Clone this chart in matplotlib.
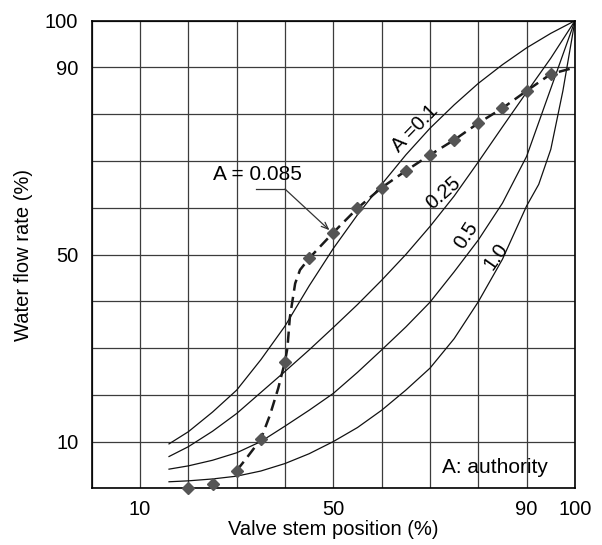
import matplotlib.pyplot as plt

plt.rcParams['font.family'] = ['Liberation Sans', 'DejaVu Sans']

# installed valve curves for several authorities
stem_01 = [16, 20, 25, 30, 35, 40, 45, 50, 55, 60, 65, 70, 75, 80, 85, 90, 95, 100]
flow_01 = [9.5, 12.1, 16.3, 21.0, 27.5, 34.7, 43.3, 51.3, 58.5, 65.0, 71.3, 77.0, 82.0, 86.6, 90.6, 94.2, 97.3, 100]

stem_025 = [16, 20, 25, 30, 35, 40, 45, 50, 55, 60, 65, 70, 75, 80, 85, 90, 95, 100]
flow_025 = [6.8, 8.9, 12.2, 16.0, 20.5, 25.0, 29.6, 34.4, 39.3, 44.5, 50.0, 56.0, 62.5, 69.8, 77.3, 84.7, 92.0, 100]

stem_05 = [16, 20, 25, 30, 35, 40, 45, 50, 55, 60, 65, 70, 75, 80, 85, 90, 95, 100]
flow_05 = [4.1, 4.8, 6.0, 7.6, 10.0, 13.3, 16.7, 20.3, 24.8, 29.6, 34.5, 39.8, 46.3, 53.1, 61.0, 71.0, 85.5, 100]

stem_10 = [16, 20, 25, 30, 35, 40, 45, 50, 55, 60, 65, 70, 75, 80, 85, 90, 92.5, 95, 97.5, 100]
flow_10 = [1.4, 1.6, 2.0, 2.6, 3.7, 5.3, 7.4, 10.0, 13.0, 16.7, 21.0, 25.7, 32.0, 39.9, 49.0, 60.4, 65.0, 72.5, 85.0, 100]

# measured curve (A = 0.085): dashed path and diamond points
path_x = [30, 31.7, 35, 36.9, 38.6, 40, 40.5, 41.0, 42.1, 43.1, 45, 50, 55, 60, 65, 70, 75, 80, 85, 90, 95, 100]
path_y = [3.8, 6.0, 10.5, 15.7, 21.4, 27.1, 30.0, 36.5, 43.8, 46.7, 49.2, 54.7, 59.9, 64.3, 67.9, 71.3, 74.5, 78.1, 81.3, 85.0, 88.6, 90.0]

meas_x = [20, 25, 30, 35, 40, 45, 50, 55, 60, 65, 70, 75, 80, 85, 90, 95]
meas_y = [0, 0.85, 3.8, 10.5, 27.1, 49.2, 54.7, 59.9, 64.3, 67.9, 71.3, 74.5, 78.1, 81.3, 85.0, 88.6]

shown_ticks = {10: '10', 50: '50', 90: '90', 100: '100'}

fig = plt.figure(figsize=(6.02, 5.45), dpi=100)
ax = fig.add_axes([0.1523, 0.1040, 0.8028, 0.8580])

grid = list(range(0, 101, 10))
ax.set_xlim(0, 100)
ax.set_ylim(0, 100)
ax.set_xticks(grid)
ax.set_yticks(grid)
ax.set_xticklabels([shown_ticks.get(v, '') for v in grid])
ax.set_yticklabels([shown_ticks.get(v, '') for v in grid])
ax.tick_params(length=0, labelsize=14.5)
ax.tick_params(axis='x', pad=8.5)
ax.tick_params(axis='y', pad=9.6)
ax.grid(True, color='#3c3c3c', lw=0.9)
ax.set_axisbelow(True)
for s in ax.spines.values():
    s.set_linewidth(1.2)

for xs, ys in [(stem_01, flow_01), (stem_025, flow_025), (stem_05, flow_05), (stem_10, flow_10)]:
    ax.plot(xs, ys, color='#111111', lw=0.9)

ax.plot(path_x, path_y, color='#1a1a1a', lw=1.8, dashes=(4.5, 2.5))
ax.plot(meas_x, meas_y, 'D', ms=6.5, color='#555555', clip_on=False, zorder=5)

ax.text(67.0, 77.0, 'A =0.1', rotation=46, rotation_mode='anchor',
        ha='center', va='center', fontsize=14.5)
ax.text(72.8, 63.2, '0.25', rotation=41, rotation_mode='anchor',
        ha='center', va='center', fontsize=14.5)
ax.text(77.4, 54.0, '0.5', rotation=57, rotation_mode='anchor',
        ha='center', va='center', fontsize=14.5)
ax.text(83.6, 49.5, '1.0', rotation=55, rotation_mode='anchor',
        ha='center', va='center', fontsize=14.5)

ax.text(25.2, 65.9, 'A = 0.085', fontsize=15, va='baseline')
ax.plot([34.1, 40.0], [64.0, 64.0], color='#333333', lw=0.9)
ax.annotate('', xy=(49.2, 55.2), xytext=(40.0, 64.0),
            arrowprops=dict(arrowstyle='->,head_length=0.5,head_width=0.2',
                            color='#333333', lw=0.9, shrinkA=0, shrinkB=0))

ax.text(72.4, 3.2, 'A: authority', fontsize=15, va='baseline')

ax.set_xlabel('Valve stem position (%)', fontsize=14.5)
ax.set_ylabel('Water flow rate (%)', fontsize=14.5)
ax.xaxis.set_label_coords(0.5, -0.068)
ax.yaxis.set_label_coords(-0.121, 0.5)

fig.savefig('out.png', dpi=100)
